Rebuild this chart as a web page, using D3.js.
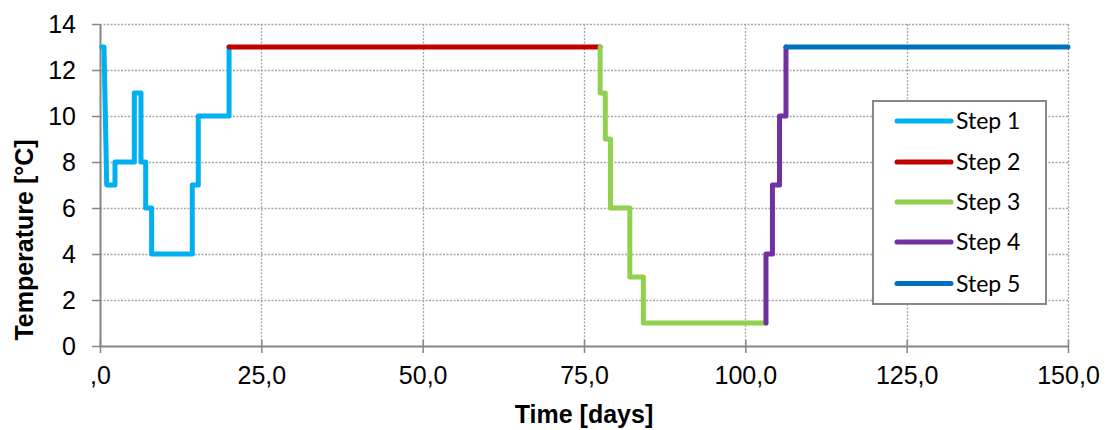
<!DOCTYPE html>
<html><head><meta charset="utf-8">
<script src="https://cdn.jsdelivr.net/npm/d3@7"></script>
<style>body{margin:0;background:#fff}svg{display:block}
.ax{font-family:"Liberation Sans",Arial,sans-serif}
.lg{font-family:Lato,"Open Sans",sans-serif}
</style>
</head><body>
<svg id="c" width="1107" height="430"></svg>
<script>
const seriesNames = ["Step 1","Step 2","Step 3","Step 4","Step 5"];
const seriesColors = ["#00B0F0","#C00000","#92D050","#7030A0","#0070C0"];
const step1Time = [0.26,0.62,1.04,2.32,2.32,5.32,5.32,6.35,6.35,7.08,7.08,8.0,8.0,14.3,14.3,15.23,15.23,20.0,20.0];
const step1Temp = [13,13,7,7,8,8,11,11,8,8,6,6,4,4,7,7,10,10,13];
const step2Time = [20.0,77.5];
const step2Temp = [13,13];
const step3Time = [77.5,77.5,78.3,78.3,79.1,79.1,82.1,82.1,84.2,84.2,103.2];
const step3Temp = [13,11,11,9,9,6,6,3,3,1,1];
const step4Time = [103.2,103.2,104.2,104.2,105.3,105.3,106.3,106.3];
const step4Temp = [1,4,4,7,7,10,10,13];
const step5Time = [106.3,150];
const step5Temp = [13,13];
const xTicks = [0,25,50,75,100,125,150];
const xTickLabels = [",0","25,0","50,0","75,0","100,0","125,0","150,0"];
const yTicks = [0,2,4,6,8,10,12,14];

const times = [step1Time,step2Time,step3Time,step4Time,step5Time];
const temps = [step1Temp,step2Temp,step3Temp,step4Temp,step5Temp];

const svg = d3.select("#c");
const L=100, R=1068, T=24, B=346;
const x = d3.scaleLinear().domain([0,150]).range([L,R]);
const y = d3.scaleLinear().domain([0,14]).range([B,T]);

// gridlines
const grid = svg.append("g").attr("stroke","#a6a6a6").attr("stroke-width",1.3).attr("stroke-dasharray","2,1.5");
yTicks.filter(d=>d>0).forEach(d=>grid.append("line").attr("x1",L).attr("x2",R).attr("y1",Math.round(y(d))+0.5).attr("y2",Math.round(y(d))+0.5));
xTicks.filter(d=>d>0).forEach(d=>grid.append("line").attr("y1",T).attr("y2",B).attr("x1",Math.round(x(d))+0.5).attr("x2",Math.round(x(d))+0.5));

// axes
const xAxis = d3.axisBottom(x).tickValues(xTicks).tickFormat((d,i)=>xTickLabels[i]).tickSizeInner(7).tickSizeOuter(0).tickPadding(13);
const gx = svg.append("g").attr("class","ax").attr("transform",`translate(0,${B})`).call(xAxis);
gx.attr("font-family",null);
gx.select(".domain").attr("stroke","#868686").attr("stroke-width",2);
gx.selectAll(".tick line").attr("stroke","#868686").attr("stroke-width",1.5).attr("y1",-6);
gx.selectAll("text").attr("font-size",25).attr("fill","#000");

const yAxis = d3.axisLeft(y).tickValues(yTicks).tickSizeInner(8).tickSizeOuter(0).tickPadding(16);
const gy = svg.append("g").attr("class","ax").attr("transform",`translate(${L},0)`).call(yAxis);
gy.attr("font-family",null);
gy.select(".domain").attr("stroke","#868686").attr("stroke-width",2);
gy.selectAll(".tick line").attr("stroke","#868686").attr("stroke-width",1.5);
gy.selectAll("text").attr("font-size",25).attr("fill","#000");

// series
const line = d3.line().x(d=>x(d[0])).y(d=>y(d[1]));
times.forEach((ts,i)=>{
  const pts = ts.map((t,j)=>[t,temps[i][j]]);
  svg.append("path").attr("d",line(pts)).attr("fill","none").attr("stroke",seriesColors[i])
    .attr("stroke-width",5).attr("stroke-linejoin","round").attr("stroke-linecap","round");
});

// axis titles
svg.append("text").attr("class","ax").attr("x",584).attr("y",423).attr("text-anchor","middle")
  .attr("font-weight","bold").attr("font-size",25).text("Time [days]");
svg.append("text").attr("class","ax").attr("transform","translate(33,240) rotate(-90)").attr("text-anchor","middle")
  .attr("font-weight","bold").attr("font-size",25).text("Temperature [°C]");

// legend
const lg = svg.append("g");
lg.append("rect").attr("x",873).attr("y",101).attr("width",173).attr("height",203).attr("fill","#fff").attr("stroke","#888").attr("stroke-width",2);
const legY = [121,162,202,242,283.5];
seriesNames.forEach((n,i)=>{
  lg.append("line").attr("x1",897).attr("x2",951).attr("y1",legY[i]).attr("y2",legY[i])
    .attr("stroke",seriesColors[i]).attr("stroke-width",5).attr("stroke-linecap","round");
  lg.append("text").attr("class","lg").attr("x",956).attr("y",legY[i]).attr("dy","0.35em")
    .attr("font-size",23).attr("fill","#000").text(n);
});
</script>
</body></html>
